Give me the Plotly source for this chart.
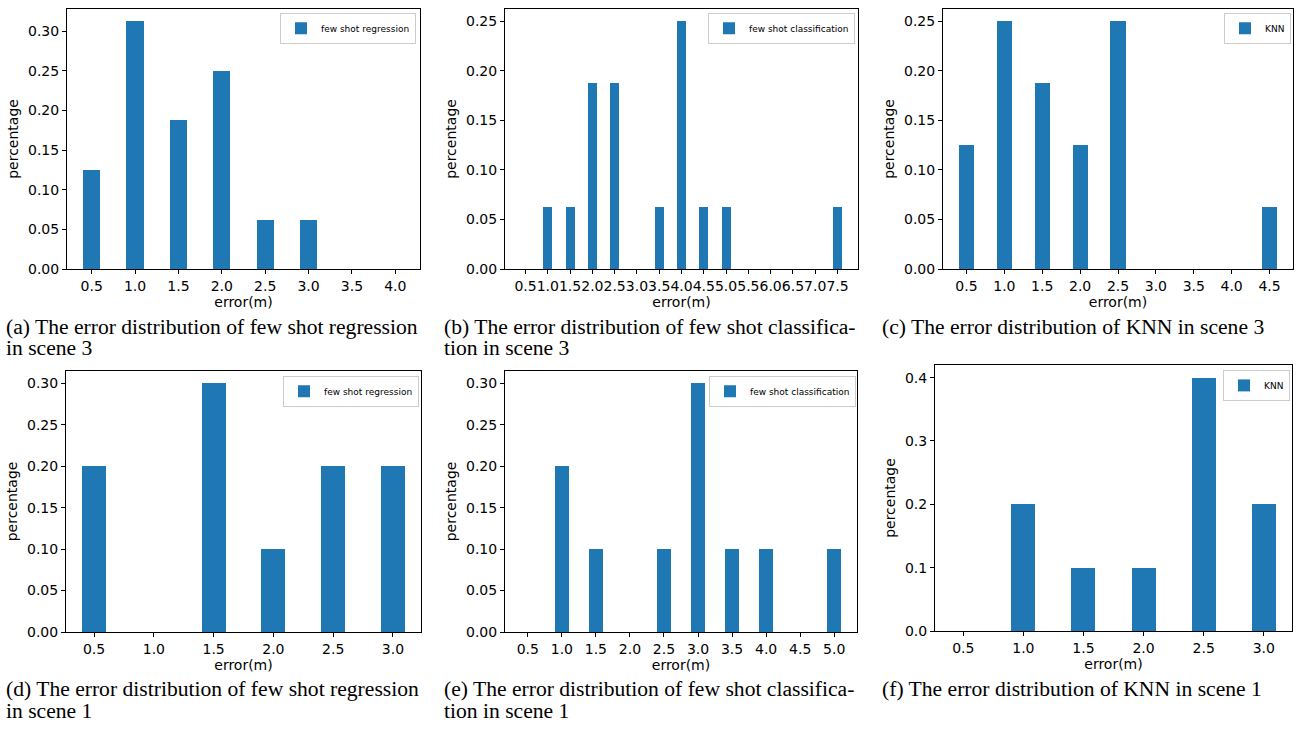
import plotly.graph_objects as go

# ---- data ----
cats_a = ["0.5", "1.0", "1.5", "2.0", "2.5", "3.0", "3.5", "4.0"]
vals_a = [0.125, 0.3125, 0.1875, 0.25, 0.0625, 0.0625, 0.0, 0.0]

cats_b = ["0.5", "1.0", "1.5", "2.0", "2.5", "3.0", "3.5", "4.0", "4.5", "5.0",
          "5.5", "6.0", "6.5", "7.0", "7.5"]
vals_b = [0.0, 0.0625, 0.0625, 0.1875, 0.1875, 0.0, 0.0625, 0.25, 0.0625, 0.0625,
          0.0, 0.0, 0.0, 0.0, 0.0625]

cats_c = ["0.5", "1.0", "1.5", "2.0", "2.5", "3.0", "3.5", "4.0", "4.5"]
vals_c = [0.125, 0.25, 0.1875, 0.125, 0.25, 0.0, 0.0, 0.0, 0.0625]

cats_d = ["0.5", "1.0", "1.5", "2.0", "2.5", "3.0"]
vals_d = [0.2, 0.0, 0.3, 0.1, 0.2, 0.2]

cats_e = ["0.5", "1.0", "1.5", "2.0", "2.5", "3.0", "3.5", "4.0", "4.5", "5.0"]
vals_e = [0.0, 0.2, 0.1, 0.0, 0.1, 0.3, 0.1, 0.1, 0.0, 0.1]

cats_f = ["0.5", "1.0", "1.5", "2.0", "2.5", "3.0"]
vals_f = [0.0, 0.2, 0.1, 0.1, 0.4, 0.2]

names = ["few shot regression", "few shot classification", "KNN",
         "few shot regression", "few shot classification", "KNN"]

captions = [
    ["(a) The error distribution of few shot regression", "in scene 3"],
    ["(b) The error distribution of few shot classifica-", "tion in scene 3"],
    ["(c) The error distribution of KNN in scene 3"],
    ["(d) The error distribution of few shot regression", "in scene 1"],
    ["(e) The error distribution of few shot classifica-", "tion in scene 1"],
    ["(f) The error distribution of KNN in scene 1"],
]

# ---- layout geometry (pixels) ----
W, H = 1297, 731
boxes = [  # left, right, top, bottom
    (67, 420, 9, 272),
    (505, 858, 9, 272),
    (943, 1293, 9, 272),
    (66, 421, 375, 639),
    (505, 857, 375, 639),
    (935, 1292, 369, 638),
]
legend_pos = [(416, 13), (855, 13), (1291, 13), (419, 380), (856, 380), (1290, 374)]
caption_pos = [(4, 331, 352), (442, 331, 352), (880, 331, 352),
               (4, 697, 719), (442, 697, 719), (880, 697, 719)]

panels = [(cats_a, vals_a), (cats_b, vals_b), (cats_c, vals_c),
          (cats_d, vals_d), (cats_e, vals_e), (cats_f, vals_f)]
ytick_fmt = [".2f", ".2f", ".2f", ".2f", ".2f", ".1f"]
ydticks = [0.05, 0.05, 0.05, 0.05, 0.05, 0.1]

BLUE = "#1f77b4"
tick_font = dict(family="DejaVu Sans", size=14, color="black")


def px(x):
    return x / W


def py(y):
    return 1 - y / H


fig = go.Figure()
layout = dict(
    width=W, height=H,
    margin=dict(l=0, r=0, t=0, b=0),
    paper_bgcolor="white", plot_bgcolor="white",
    bargap=0, showlegend=True,
    annotations=[],
)

for i, ((cats, vals), (l, r, t, b)) in enumerate(zip(panels, boxes)):
    k = "" if i == 0 else str(i + 1)
    n = len(cats)
    idx = list(range(n))
    lg = "legend" if i == 0 else f"legend{i + 1}"
    fig.add_trace(go.Bar(
        x=idx, y=vals, width=0.4, name=names[i],
        marker=dict(color=BLUE, line=dict(width=0)),
        xaxis="x" + k, yaxis="y" + k, legend=lg, showlegend=True,
    ))
    margin = 0.05 * (n - 1 + 0.4)
    ymax = max(vals) * 1.05
    common = dict(showline=True, linecolor="black", linewidth=1, mirror=True,
                  ticks="outside", ticklen=4, tickwidth=1, tickcolor="black",
                  showgrid=False, zeroline=False, tickfont=tick_font)
    layout["xaxis" + k] = dict(
        domain=[px(l), px(r)], anchor="y" + k,
        range=[-0.2 - margin, n - 1 + 0.2 + margin],
        tickmode="array", tickvals=idx, ticktext=cats, tickangle=0,
        title=dict(text="error(m)", font=tick_font, standoff=2),
        **common,
    )
    layout["yaxis" + k] = dict(
        domain=[py(b), py(t)], anchor="x" + k,
        range=[0, ymax], dtick=ydticks[i], tick0=0, tickformat=ytick_fmt[i],
        title=dict(text="percentage", font=tick_font, standoff=6),
        **common,
    )
    lx, ly = legend_pos[i]
    layout[lg] = dict(
        x=px(lx), y=py(ly), xanchor="right", yanchor="top",
        xref="paper", yref="paper",
        bgcolor="rgba(255,255,255,0.8)", bordercolor="#cccccc", borderwidth=1,
        font=dict(family="DejaVu Sans", size=9, color="black"),
        itemwidth=30, tracegroupgap=0,
    )
    cx, cy1, cy2 = caption_pos[i]
    for line, cy in zip(captions[i], (cy1, cy2)):
        layout["annotations"].append(dict(
            text=line, x=px(cx), y=py(cy), xref="paper", yref="paper",
            xanchor="left", yanchor="middle", align="left", showarrow=False,
            font=dict(family="Liberation Serif", size=21.6, color="black"),
        ))

fig.update_layout(**layout)
fig.write_html(
    "out.html",
    config={"displayModeBar": False},
    post_script="document.body.style.margin='0';"
                "document.documentElement.style.overflow='hidden';"
                "document.body.style.overflow='hidden';",
)
